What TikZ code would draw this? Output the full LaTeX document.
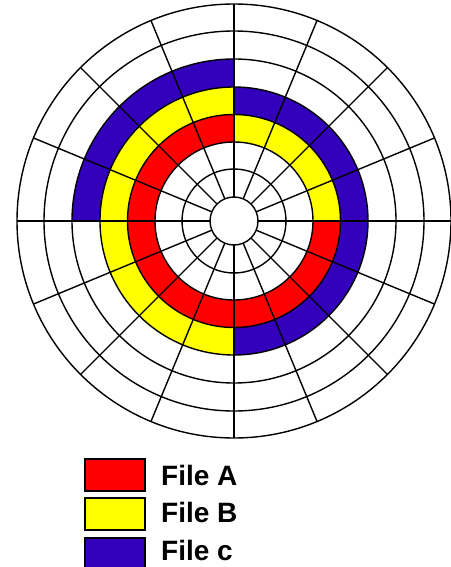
\documentclass[tikz,border=0pt]{standalone}
\usepackage{fontspec}
\setmainfont{Liberation Sans}
\definecolor{fileA}{RGB}{255,0,0}
\definecolor{fileB}{RGB}{255,255,0}
\definecolor{fileC}{RGB}{51,0,187}
\newcommand\ringpart[5]{\fill[#1] (#2:#4) arc[start angle=#2,end angle=#3,radius=#4] -- (#3:#5) arc[start angle=#3,end angle=#2,radius=#5] -- cycle;}
\begin{document}
\begin{tikzpicture}[x=1pt,y=-1pt,
  gridline/.style={line width=1.4pt, black},
  keybox/.style={draw=black, line width=1.4pt, minimum width=60pt, minimum height=32pt, inner sep=0pt},
  keytext/.style={anchor=base west, inner sep=0pt, font=\fontsize{28}{30}\selectfont\bfseries}]
\useasboundingbox (0,0) rectangle (450,567);
\fill[white] (0,0) rectangle (450,567);
\begin{scope}[shift={(234,221)}]
  % file fragments (angles: -90 = top, 0 = right, 90 = bottom, 180 = left)
  \ringpart{fileB}{-90}{0}{79}{106.5}
  \ringpart{fileA}{0}{270}{79}{106.5}
  \ringpart{fileC}{-90}{90}{106.5}{134}
  \ringpart{fileB}{90}{270}{106.5}{134}
  \ringpart{fileC}{180}{270}{134}{162}
  % tracks
  \foreach \r in {24,52,79,106.5,134,162,190,217}
    \draw[gridline] (0,0) circle[radius=\r];
  % sectors
  \foreach \a in {0,22.5,...,337.5}
    \draw[gridline] (\a:24) -- (\a:217);
\end{scope}
% legend
\node[keybox, fill=fileA] (ka) at (115,475) {};
\node[keybox, fill=fileB] (kb) at (115,514) {};
\node[keybox, fill=fileC] (kc) at (115,554) {};
\node[keytext] (ta) at (161,485) {File A};
\node[keytext] (tb) at (161,522) {File B};
\node[keytext] (tc) at (161,560) {File c};
\end{tikzpicture}
\end{document}
